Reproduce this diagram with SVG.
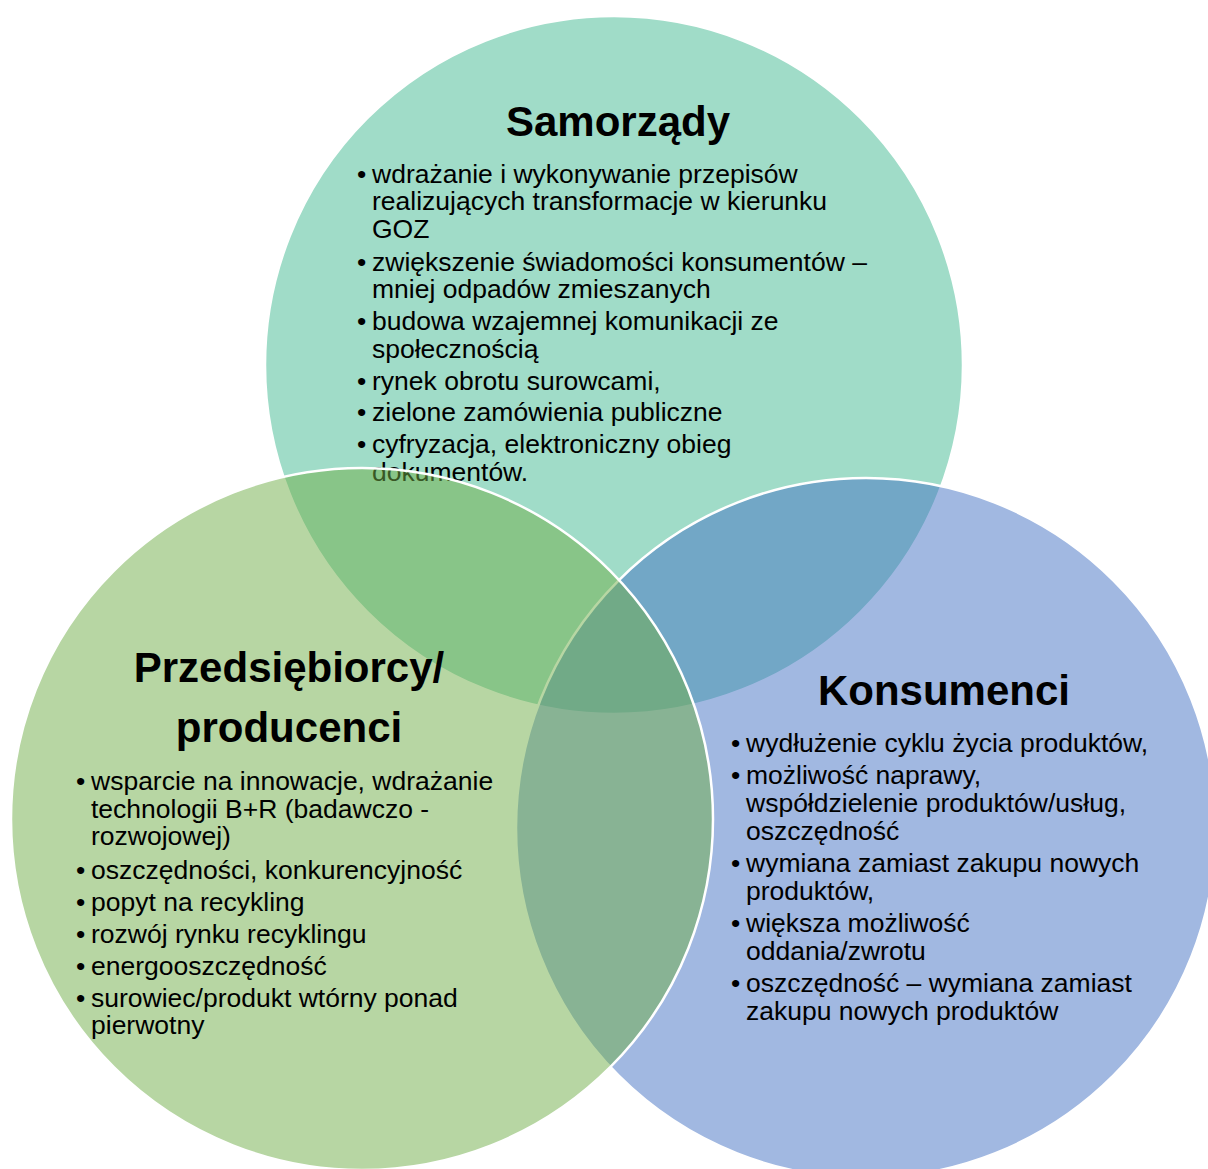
<svg xmlns="http://www.w3.org/2000/svg" width="1208" height="1169" viewBox="0 0 1208 1169">
<style>
.c{stroke:#ffffff;stroke-width:2.5}
.t{font-family:"Liberation Sans",Arial,sans-serif;fill:#000}
.h{font-size:42px;font-weight:bold;text-anchor:middle}
.b{font-size:26.5px}
</style>
<rect width="1208" height="1169" fill="#ffffff"/>
<g id="node-samorzady">
<circle class="c" cx="614" cy="365" r="349" fill="#a0dcc8"/>
<text class="t h" x="618" y="136">Samorządy</text>
<g class="t b">
<text x="357" y="183">•</text><text x="372" y="183">wdrażanie i wykonywanie przepisów</text>
<text x="372" y="210">realizujących transformacje w kierunku</text>
<text x="372" y="238">GOZ</text>
<text x="357" y="271">•</text><text x="372" y="271">zwiększenie świadomości konsumentów –</text>
<text x="372" y="298">mniej odpadów zmieszanych</text>
<text x="357" y="330">•</text><text x="372" y="330">budowa wzajemnej komunikacji ze</text>
<text x="372" y="358">społecznością</text>
<text x="357" y="390">•</text><text x="372" y="390">rynek obrotu surowcami,</text>
<text x="357" y="421">•</text><text x="372" y="421">zielone zamówienia publiczne</text>
<text x="357" y="453">•</text><text x="372" y="453">cyfryzacja, elektroniczny obieg</text>
<text x="372" y="481">dokumentów.</text>
</g>
</g>
<g id="node-konsumenci">
<circle class="c" cx="866" cy="828" r="350" fill="#4472c4" fill-opacity="0.5"/>
<text class="t h" x="944" y="705">Konsumenci</text>
<g class="t b">
<text x="731" y="752">•</text><text x="746" y="752">wydłużenie cyklu życia produktów,</text>
<text x="731" y="784">•</text><text x="746" y="784">możliwość naprawy,</text>
<text x="746" y="812">współdzielenie produktów/usług,</text>
<text x="746" y="840">oszczędność</text>
<text x="731" y="872">•</text><text x="746" y="872">wymiana zamiast zakupu nowych</text>
<text x="746" y="900">produktów,</text>
<text x="731" y="932">•</text><text x="746" y="932">większa możliwość</text>
<text x="746" y="960">oddania/zwrotu</text>
<text x="731" y="992">•</text><text x="746" y="992">oszczędność – wymiana zamiast</text>
<text x="746" y="1020">zakupu nowych produktów</text>
</g>
</g>
<g id="node-przedsiebiorcy">
<circle class="c" cx="362" cy="819" r="351" fill="#70ad47" fill-opacity="0.5"/>
<text class="t h" x="289" y="682">Przedsiębiorcy/</text>
<text class="t h" x="289" y="742">producenci</text>
<g class="t b">
<text x="76" y="790">•</text><text x="91" y="790">wsparcie na innowacje, wdrażanie</text>
<text x="91" y="818">technologii B+R (badawczo -</text>
<text x="91" y="845">rozwojowej)</text>
<text x="76" y="879">•</text><text x="91" y="879">oszczędności, konkurencyjność</text>
<text x="76" y="911">•</text><text x="91" y="911">popyt na recykling</text>
<text x="76" y="943">•</text><text x="91" y="943">rozwój rynku recyklingu</text>
<text x="76" y="975">•</text><text x="91" y="975">energooszczędność</text>
<text x="76" y="1007">•</text><text x="91" y="1007">surowiec/produkt wtórny ponad</text>
<text x="91" y="1034">pierwotny</text>
</g>
</g>
<g id="connectors"/>
</svg>
